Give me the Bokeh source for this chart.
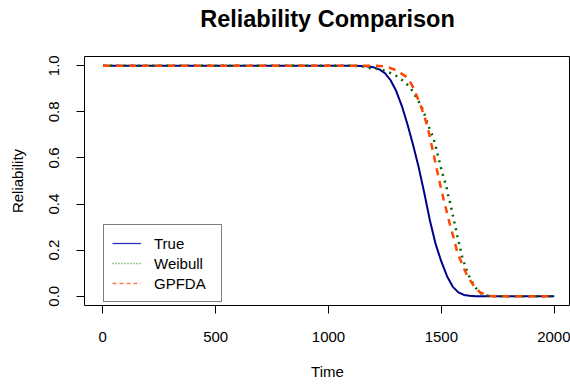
from bokeh.plotting import figure
from bokeh.models import Range1d, FixedTicker, PrintfTickFormatter, Legend, LegendItem, Title
from bokeh.embed import file_html
from bokeh.resources import INLINE

# ---- data ----
true_t = [1, 1100, 1150, 1175, 1200, 1225, 1250, 1275, 1300, 1325, 1350, 1375, 1400,
          1425, 1450, 1475, 1500, 1525, 1550, 1575, 1600, 1625, 1650, 2000]
true_r = [1.0, 1.0, 0.999, 0.997, 0.993, 0.984, 0.968, 0.937, 0.89, 0.825, 0.745, 0.655, 0.557,
          0.445, 0.325, 0.225, 0.15, 0.087, 0.042, 0.017, 0.006, 0.002, 0.0, 0.0]

weib_t = [1, 1100, 1150, 1180, 1220, 1253, 1297, 1335, 1365, 1385, 1410, 1425, 1440, 1455,
          1465, 1475, 1487, 1500, 1510, 1520, 1530, 1540, 1550, 1560, 1570, 1583, 1593,
          1608, 1623, 1642, 1663, 1682, 1710, 1750, 2000]
weib_r = [1.0, 1.0, 0.997, 0.99, 0.985, 0.978, 0.958, 0.932, 0.902, 0.868, 0.828, 0.79, 0.745,
          0.71, 0.685, 0.65, 0.60, 0.55, 0.515, 0.485, 0.44, 0.40, 0.355, 0.31, 0.265, 0.21,
          0.167, 0.124, 0.087, 0.051, 0.022, 0.007, 0.002, 0.0, 0.0]

gp_t = [1, 1150, 1200, 1240, 1270, 1300, 1320, 1340, 1356, 1370, 1386, 1405, 1423, 1440,
        1453, 1467, 1480, 1490, 1500, 1510, 1523, 1538, 1556, 1571, 1593, 1615, 1645,
        1670, 1696, 1720, 1750, 2000]
gp_r = [1.0, 1.0, 1.0, 0.998, 0.992, 0.98, 0.968, 0.955, 0.939, 0.915, 0.881, 0.835, 0.786,
        0.73, 0.672, 0.61, 0.55, 0.505, 0.46, 0.42, 0.37, 0.31, 0.248, 0.189, 0.138, 0.087,
        0.044, 0.018, 0.007, 0.001, 0.0, 0.0]

x_ticks = [0, 500, 1000, 1500, 2000]
y_ticks = [0.0, 0.2, 0.4, 0.6, 0.8, 1.0]
labels = ["True", "Weibull", "GPFDA"]
colors = ["#00008B", "#006400", "#FF4500"]
title_text = "Reliability Comparison"

FONT = "Liberation Sans"

p = figure(width=570, height=384, output_backend="svg", toolbar_location=None,
           x_range=Range1d(-81, 2072), y_range=Range1d(-0.04, 1.04),
           min_border_left=84, min_border_right=0, min_border_top=56, min_border_bottom=79)

# spacer panel between the frame and the title (title is the outermost panel)
p.add_layout(Title(text=" ", text_font_size="1px", standoff=22), "above")

p.title.text = title_text
p.title.align = "center"
p.title.text_font = FONT
p.title.text_font_size = "23.5px"
p.title.text_font_style = "bold"
p.title.text_color = "#000000"
p.title.standoff = 0

p.grid.visible = False
p.background_fill_color = "white"
p.border_fill_color = "white"
p.outline_line_color = "#000000"
p.outline_line_width = 1

for ax in (p.xaxis[0], p.yaxis[0]):
    ax.axis_line_color = None
    ax.major_tick_in = 0
    ax.major_tick_out = 8
    ax.major_tick_line_color = "#000000"
    ax.minor_tick_line_color = None
    ax.major_label_text_font = FONT
    ax.major_label_text_font_size = "15px"
    ax.major_label_text_color = "#000000"
    ax.axis_label_text_font = FONT
    ax.axis_label_text_font_size = "15px"
    ax.axis_label_text_font_style = "normal"
    ax.axis_label_text_color = "#000000"

p.xaxis.ticker = FixedTicker(ticks=x_ticks)
p.yaxis.ticker = FixedTicker(ticks=y_ticks)
p.yaxis.formatter = PrintfTickFormatter(format="%.1f")
p.yaxis.major_label_orientation = "vertical"
p.xaxis.axis_label = "Time"
p.yaxis.axis_label = "Reliability"
p.xaxis.major_label_standoff = 18
p.yaxis.major_label_standoff = 17
p.xaxis.axis_label_standoff = 18
p.yaxis.axis_label_standoff = 21

p.line(true_t, true_r, line_color=colors[0], line_width=2)
p.line(weib_t, weib_r, line_color=colors[1], line_width=2.5, line_dash="2 5")
p.line(gp_t, gp_r, line_color=colors[2], line_width=2.5, line_dash="7 6")

# legend entries (thin lines, as in the reference legend); their data lie outside the view
off_x = [-5000, -4999]
off_y = [-5, -5]
l1 = p.line(off_x, off_y, line_color="#3030C0", line_width=1.3)
l2 = p.line(off_x, off_y, line_color="#3A9A3A", line_width=1.3, line_dash="1 2")
l3 = p.line(off_x, off_y, line_color="#FF7A50", line_width=1.3, line_dash="4 3")

legend = Legend(items=[LegendItem(label=labels[0], renderers=[l1]),
                       LegendItem(label=labels[1], renderers=[l2]),
                       LegendItem(label=labels[2], renderers=[l3])],
                location=(19, 3))
legend.border_line_color = "#000000"
legend.border_line_width = 1
legend.background_fill_color = "white"
legend.background_fill_alpha = 1
legend.label_text_font = FONT
legend.label_text_font_size = "15px"
legend.label_text_color = "#000000"
legend.glyph_width = 29
legend.glyph_height = 20
legend.label_height = 20
legend.label_width = 59
legend.label_standoff = 13
legend.padding = 8
legend.spacing = 0
legend.margin = 0
p.add_layout(legend)

open("out.html", "w").write(file_html(p, INLINE))
